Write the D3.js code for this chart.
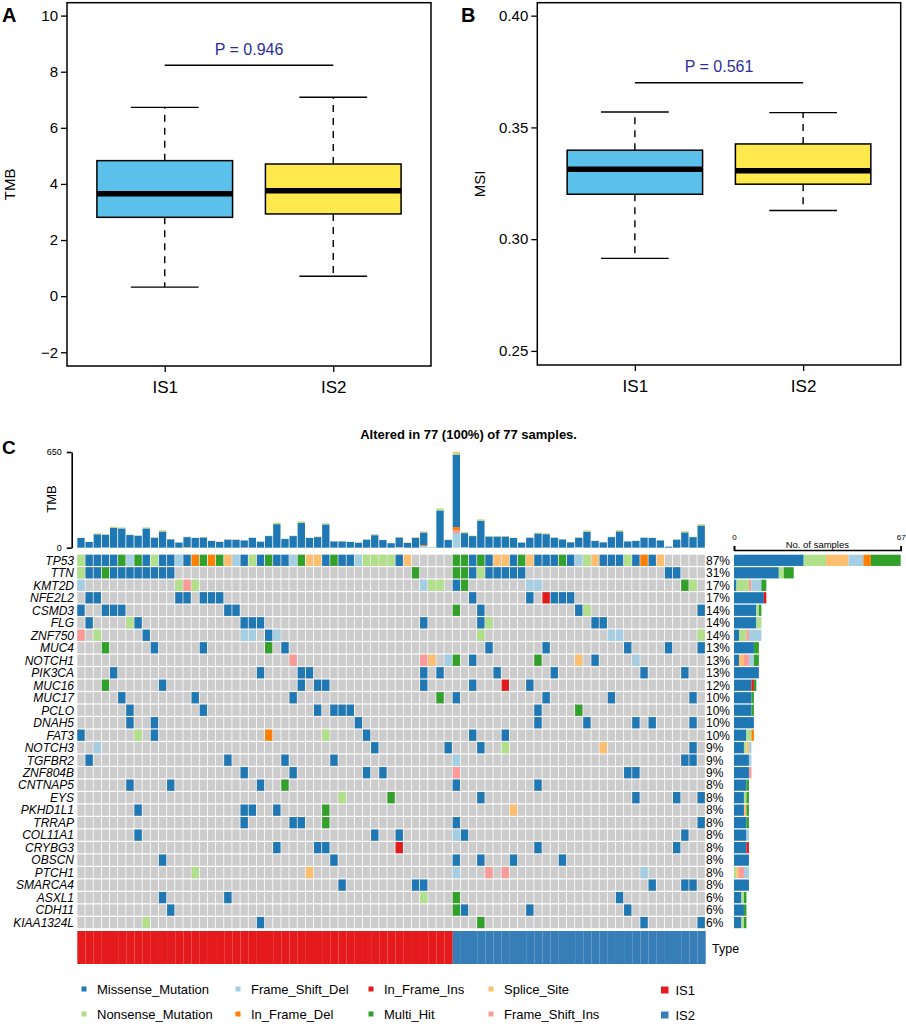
<!DOCTYPE html>
<html>
<head>
<meta charset="utf-8">
<script src="https://cdn.jsdelivr.net/npm/d3@7"></script>
<style>
  body { margin: 0; background: #fff; }
  text { font-family: "Liberation Sans", Arial, Helvetica, sans-serif; }
</style>
</head>
<body>
<svg id="fig" width="906" height="1024"></svg>
<script>
/* ---------- DATA ---------- */
const groups = ["IS1", "IS2"];

// panel A: TMB boxplot (low whisker, Q1, median, Q3, high whisker)
const tmbLow = [0.32, 0.71];
const tmbQ1 = [2.81, 2.93];
const tmbMed = [3.65, 3.76];
const tmbQ3 = [4.83, 4.71];
const tmbHigh = [6.73, 7.09];
const tmbTicks = [-2, 0, 2, 4, 6, 8, 10];
const tmbP = "P = 0.946";

// panel B: MSI boxplot
const msiLow = [0.2914, 0.3128];
const msiQ1 = [0.3201, 0.3246];
const msiMed = [0.3313, 0.3306];
const msiQ3 = [0.3398, 0.3426];
const msiHigh = [0.3569, 0.3566];
const msiTicks = [0.25, 0.30, 0.35, 0.40];
const msiP = "P = 0.561";

// panel C: oncoplot
const samples = d3.range(1, 78).map(i => "S" + i);
const nIS1 = 46;   // first 46 samples IS1, rest IS2

const genes = ["TP53", "TTN", "KMT2D", "NFE2L2", "CSMD3", "FLG", "ZNF750", "MUC4",
  "NOTCH1", "PIK3CA", "MUC16", "MUC17", "PCLO", "DNAH5", "FAT3", "NOTCH3", "TGFBR2",
  "ZNF804B", "CNTNAP5", "EYS", "PKHD1L1", "TRRAP", "COL11A1", "CRYBG3", "OBSCN",
  "PTCH1", "SMARCA4", "ASXL1", "CDH11", "KIAA1324L"];

// sample column + code : M missense, N nonsense, S splice, D fs del, I fs ins,
// d in-frame del, i in-frame ins, H multi hit
const mutations = [
  "0N 1M 2M 3M 4M 5H 6D 7H 8M 9N 10M 11M 12D 13M 14d 15H 16d 17H 18S 19D 20M 21N 22M 23H 24M 25M 26D 27H 28S 29S 30M 31H 32M 33M 34D 35N 36N 37N 38N 39M 40S 46H 47H 48M 49H 50M 51S 52S 53M 54H 55S 56M 57M 58M 59H 60M 61D 62N 63S 64M 65M 66M 67N 68M 69d 70M 71S",
  "0N 1M 2M 3H 4M 5M 6M 7M 8M 9M 10M 11M 41H 46H 47H 48M 49N 50M 51M 52M 53M 54M 72M 73M",
  "0D 12N 13I 14N 42D 43N 44N 46M 47H 55D 56D 74H 75N",
  "1M 2M 12M 13M 15M 16M 17M 48M 55M 57i 58M 59M 60M",
  "0M 3M 4M 5M 18M 19M 46H 49M 61M 62N 76M",
  "1M 6N 7M 20M 21M 22M 42M 49M 50N 63M 64M",
  "0I 2N 8M 20D 21D 23M 24D 49N 65D 66D 76N",
  "3H 9M 15M 23H 25M 50M 57M 67M 72M 76M",
  "26I 42I 43S 45D 46H 48M 56H 61S 63M 68D",
  "4M 22M 27M 28M 42M 44M 51M 58M 69M 74M",
  "3H 10M 27M 29M 30M 42M 48M 52i 55M",
  "5M 14M 26M 44H 46M 57M 65M 75M",
  "6M 15M 29M 31M 32M 33M 56M 61H",
  "6M 9M 34M 56M 62M 68M 70M 75M",
  "0M 7N 9M 23d 30N 35M 48M 52M",
  "2D 36M 45M 49M 52N 64S 75M",
  "1M 18M 25M 31M 46D 74M 75M",
  "20M 26M 35M 37M 46I 67M 68M",
  "6M 11M 22M 25H 46M 56M",
  "32N 38H 49M 68M 73M 76M",
  "7M 20M 21M 24M 30H 53S",
  "20M 26M 27M 30H 46M 76M",
  "7M 36M 39M 46D 47M 74M",
  "24M 29M 30M 39i 56M 73M",
  "10M 31M 46M 49M 53M 59M",
  "14N 28S 46D 50I 52I 69D",
  "32M 41M 42M 70M 74M 75M",
  "10M 18M 42N 46H 66M",
  "11M 46H 47M 55M 67M",
  "8N 22M 49H 69M 76M"
];

// TMB per sample (top bar)
const tmbTotal = [68, 41, 100, 91, 143, 138, 89, 84, 138, 70, 120, 59, 36, 75, 68, 73, 48, 43, 57, 59,
  52, 70, 43, 82, 170, 61, 82, 180, 68, 77, 166, 45, 45, 41, 36, 57, 91, 54, 32, 73,
  36, 73, 113, 5, 268, 55, 652, 108, 82, 195, 79, 79, 79, 68, 36, 70, 102, 98, 70, 59,
  39, 70, 118, 48, 39, 75, 120, 45, 48, 70, 68, 52, 7, 57, 113, 75, 161];
const tmbNonsense = [2, 2, 6, 3, 7, 7, 3, 3, 7, 2, 7, 2, 1, 3, 2, 3, 2, 2, 2, 2,
  2, 3, 2, 3, 8, 2, 3, 9, 2, 3, 8, 2, 2, 2, 2, 2, 6, 2, 1, 3,
  2, 3, 6, 0, 12, 3, 12, 6, 3, 8, 3, 3, 3, 2, 1, 2, 5, 4, 2, 2,
  2, 2, 6, 2, 2, 3, 6, 2, 2, 2, 2, 2, 0, 2, 6, 3, 7];
const tmbSplice = {2: 3, 4: 2, 10: 3, 17: 2, 19: 3, 24: 2, 27: 3, 29: 2, 40: 2, 41: 3, 42: 4, 44: 3,
  46: 8, 47: 3, 49: 3, 57: 2, 62: 3, 66: 3, 74: 3, 76: 3};
const tmbFsDel = {42: 12, 43: 5, 46: 100, 47: 3, 61: 3};
const tmbFsIns = {3: 2, 39: 3, 46: 20, 74: 2};
const tmbIfDel = {13: 3, 42: 6, 46: 20};
const tmbIfIns = {20: 2, 57: 2};

/* ---------- STYLES ---------- */
const FONT = '"Liberation Sans", Arial, Helvetica, sans-serif';
const codeNames = {M: "Missense_Mutation", N: "Nonsense_Mutation", S: "Splice_Site",
  D: "Frame_Shift_Del", I: "Frame_Shift_Ins", d: "In_Frame_Del", i: "In_Frame_Ins", H: "Multi_Hit"};
const vcColor = d3.scaleOrdinal()
  .domain(["Missense_Mutation", "Frame_Shift_Del", "In_Frame_Ins", "Splice_Site",
    "Nonsense_Mutation", "In_Frame_Del", "Multi_Hit", "Frame_Shift_Ins"])
  .range(["#1F78B4", "#A6CEE3", "#E31A1C", "#FDBF6F", "#B2DF8A", "#FF7F00", "#33A02C", "#FB9A99"]);
const groupColor = d3.scaleOrdinal().domain(groups).range(["#E41A1C", "#377EB8"]);
const boxFill = d3.scaleOrdinal().domain(groups).range(["#5BC0EA", "#FFE94D"]);

const svg = d3.select("#fig");

/* ---------- BOX PANELS ---------- */
function boxPanel(cfg) {
  const g = svg.append("g");
  const x = d3.scalePoint().domain(groups).range([cfg.x0, cfg.x1]).padding(0.58);
  const y = d3.scaleLinear().domain(cfg.domain).range([cfg.y1, cfg.y0]);
  const bw = x.step() * 0.805;
  const stats = groups.map((k, i) => ({k, lo: cfg.lo[i], q1: cfg.q1[i], med: cfg.med[i], q3: cfg.q3[i], hi: cfg.hi[i]}));

  g.append("g")
    .attr("transform", `translate(${cfg.x0},0)`)
    .call(d3.axisLeft(y).tickValues(cfg.ticks).tickFormat(cfg.fmt).tickSize(6).tickPadding(3))
    .attr("font-size", 15).attr("font-family", FONT)
    .call(a => a.select(".domain").remove())
    .call(a => a.selectAll("line").attr("stroke-width", 1.3));

  g.append("g")
    .attr("transform", `translate(0,${cfg.y1})`)
    .call(d3.axisBottom(x).tickSize(6).tickPadding(9))
    .attr("font-size", 17).attr("font-family", FONT)
    .call(a => a.select(".domain").remove())
    .call(a => a.selectAll("line").attr("stroke-width", 1.3));

  g.append("text")
    .attr("transform", `translate(${cfg.labelX},${(cfg.y0 + cfg.y1) / 2}) rotate(-90)`)
    .attr("text-anchor", "middle").attr("font-size", 15)
    .text(cfg.label);

  const b = g.selectAll(".bx").data(stats).join("g").attr("class", "bx");
  b.append("line")
    .attr("x1", d => x(d.k)).attr("x2", d => x(d.k))
    .attr("y1", d => y(d.q3)).attr("y2", d => y(d.hi))
    .attr("stroke", "#000").attr("stroke-width", 1.4).attr("stroke-dasharray", "7,6");
  b.append("line")
    .attr("x1", d => x(d.k)).attr("x2", d => x(d.k))
    .attr("y1", d => y(d.q1)).attr("y2", d => y(d.lo))
    .attr("stroke", "#000").attr("stroke-width", 1.4).attr("stroke-dasharray", "7,6");
  ["hi", "lo"].forEach(key => {
    b.append("line")
      .attr("x1", d => x(d.k) - bw / 4).attr("x2", d => x(d.k) + bw / 4)
      .attr("y1", d => y(d[key])).attr("y2", d => y(d[key]))
      .attr("stroke", "#000").attr("stroke-width", 1.4);
  });
  b.append("rect")
    .attr("x", d => x(d.k) - bw / 2).attr("width", bw)
    .attr("y", d => y(d.q3)).attr("height", d => y(d.q1) - y(d.q3))
    .attr("fill", d => boxFill(d.k)).attr("stroke", "#000").attr("stroke-width", 1.5);
  b.append("line")
    .attr("x1", d => x(d.k) - bw / 2).attr("x2", d => x(d.k) + bw / 2)
    .attr("y1", d => y(d.med)).attr("y2", d => y(d.med))
    .attr("stroke", "#000").attr("stroke-width", 5.5);

  g.append("line")
    .attr("x1", x(groups[0])).attr("x2", x(groups[1]))
    .attr("y1", y(cfg.sig)).attr("y2", y(cfg.sig))
    .attr("stroke", "#000").attr("stroke-width", 1.5);
  g.append("text")
    .attr("x", (x(groups[0]) + x(groups[1])) / 2).attr("y", y(cfg.sig) - 10.5)
    .attr("text-anchor", "middle").attr("font-size", 16).attr("fill", "#2B2F9B")
    .text(cfg.p);

  g.append("rect")
    .attr("x", cfg.x0).attr("y", cfg.y0)
    .attr("width", cfg.x1 - cfg.x0).attr("height", cfg.y1 - cfg.y0)
    .attr("fill", "none").attr("stroke", "#000").attr("stroke-width", 1.5);

  g.append("text").attr("x", cfg.tagX).attr("y", 21.7)
    .attr("font-size", 20).attr("font-weight", "bold").text(cfg.tag);
}

boxPanel({tag: "A", tagX: 2, x0: 67, x1: 431, y0: 2.7, y1: 366, domain: [-2.49, 10.46],
  ticks: tmbTicks, fmt: d3.format("d"), label: "TMB", labelX: 15,
  lo: tmbLow, q1: tmbQ1, med: tmbMed, q3: tmbQ3, hi: tmbHigh, sig: 8.23, p: tmbP});
boxPanel({tag: "B", tagX: 461, x0: 537.3, x1: 900.7, y0: 2.7, y1: 365, domain: [0.2437, 0.4058],
  ticks: msiTicks, fmt: d3.format(".2f"), label: "MSI", labelX: 485,
  lo: msiLow, q1: msiQ1, med: msiMed, q3: msiQ3, hi: msiHigh, sig: 0.370, p: msiP});

/* ---------- ONCOPLOT ---------- */
const cells = genes.flatMap((gene, gi) =>
  mutations[gi].split(" ").map(t => ({
    gene, sample: samples[+t.slice(0, -1)], type: codeNames[t.slice(-1)]
  })));

const x = d3.scaleBand().domain(samples).range([77.3, 704.85]).paddingInner(0.1);
const y = d3.scaleBand().domain(genes).range([554.7, 928.2]).paddingInner(0.1);
const c = svg.append("g");

c.append("text").attr("x", 2).attr("y", 454)
  .attr("font-size", 19).attr("font-weight", "bold").text("C");

const altered = new Set(cells.map(d => d.sample)).size;
c.append("text").attr("x", 468.6).attr("y", 438.5).attr("text-anchor", "middle")
  .attr("font-size", 13).attr("font-weight", "bold")
  .text(`Altered in ${altered} (${Math.round(altered / samples.length * 100)}%) of ${samples.length} samples.`);

// background grid
c.append("g").selectAll("rect")
  .data(d3.cross(genes, samples))
  .join("rect")
  .attr("x", d => x(d[1])).attr("y", d => y(d[0]))
  .attr("width", x.bandwidth()).attr("height", y.bandwidth())
  .attr("fill", "#CCCCCC");

c.append("g").selectAll("rect")
  .data(cells)
  .join("rect")
  .attr("x", d => x(d.sample)).attr("y", d => y(d.gene))
  .attr("width", x.bandwidth()).attr("height", y.bandwidth())
  .attr("fill", d => vcColor(d.type));

// gene names + percentages
const geneCount = d3.rollup(cells, v => v.length, d => d.gene);
c.append("g").selectAll("text")
  .data(genes).join("text")
  .attr("x", 74).attr("y", d => y(d) + y.bandwidth() / 2)
  .attr("dy", "0.36em").attr("text-anchor", "end")
  .attr("font-size", 12).attr("font-style", "italic")
  .text(d => d);
c.append("g").selectAll("text")
  .data(genes).join("text")
  .attr("x", 706).attr("y", d => y(d) + y.bandwidth() / 2)
  .attr("dy", "0.36em").attr("font-size", 12)
  .text(d => Math.round(geneCount.get(d) / samples.length * 100) + "%");

// TMB stacked bars on top
const tmbKeys = ["Frame_Shift_Del", "Frame_Shift_Ins", "In_Frame_Del", "In_Frame_Ins",
  "Missense_Mutation", "Nonsense_Mutation", "Splice_Site"];
const tmbRows = samples.map((s, i) => {
  const r = {
    sample: s,
    Frame_Shift_Del: tmbFsDel[i] || 0,
    Frame_Shift_Ins: tmbFsIns[i] || 0,
    In_Frame_Del: tmbIfDel[i] || 0,
    In_Frame_Ins: tmbIfIns[i] || 0,
    Nonsense_Mutation: tmbNonsense[i],
    Splice_Site: tmbSplice[i] || 0
  };
  r.Missense_Mutation = tmbTotal[i] - d3.sum(tmbKeys.filter(k => k !== "Missense_Mutation"), k => r[k]);
  return r;
});
const tmbY = d3.scaleLinear().domain([0, 650]).range([547.7, 452]);
const stacked = d3.stack().keys(tmbKeys)(tmbRows);
c.append("g").selectAll("g")
  .data(stacked).join("g")
  .attr("fill", d => vcColor(d.key))
  .selectAll("rect")
  .data(d => d).join("rect")
  .attr("x", d => x(d.data.sample)).attr("width", x.bandwidth())
  .attr("y", d => tmbY(d[1])).attr("height", d => tmbY(d[0]) - tmbY(d[1]));

c.append("g")
  .attr("transform", "translate(71.7,0)")
  .call(d3.axisLeft(tmbY).tickValues([0, 650]).tickSize(5).tickSizeOuter(0).tickPadding(5))
  .attr("font-size", 9).attr("font-family", FONT)
  .call(a => a.selectAll("line, path").attr("stroke-width", 1.6));
c.append("text")
  .attr("transform", "translate(56.3,499) rotate(-90)")
  .attr("text-anchor", "middle").attr("font-size", 13).text("TMB");

// right side: number of samples per gene by class
const sideKeys = ["Missense_Mutation", "Nonsense_Mutation", "Splice_Site", "Frame_Shift_Ins",
  "Frame_Shift_Del", "In_Frame_Del", "In_Frame_Ins", "Multi_Hit"];
const sideRows = genes.map(gene => {
  const r = {gene};
  sideKeys.forEach(k => r[k] = cells.filter(d => d.gene === gene && d.type === k).length);
  return r;
});
const maxCount = d3.max(genes, g => geneCount.get(g));
const xr = d3.scaleLinear().domain([0, maxCount]).range([734, 900.7]);
c.append("g").selectAll("g")
  .data(d3.stack().keys(sideKeys)(sideRows)).join("g")
  .attr("fill", d => vcColor(d.key))
  .selectAll("rect")
  .data(d => d).join("rect")
  .attr("x", d => xr(d[0])).attr("width", d => xr(d[1]) - xr(d[0]))
  .attr("y", d => y(d.data.gene)).attr("height", y.bandwidth());

c.append("g")
  .attr("transform", "translate(0,550)")
  .call(d3.axisTop(xr).tickValues([0, maxCount]).tickSize(4).tickPadding(6))
  .attr("font-size", 8).attr("font-family", FONT)
  .call(a => a.selectAll("line, path").attr("stroke-width", 1.6));
c.append("text").attr("x", (xr(0) + xr(maxCount)) / 2).attr("y", 548)
  .attr("text-anchor", "middle").attr("font-size", 9.5).text("No. of samples");

// sample type annotation
c.append("g").selectAll("rect")
  .data(samples).join("rect")
  .attr("x", d => x(d)).attr("width", x.step() + 0.05)
  .attr("y", 931).attr("height", 33)
  .attr("fill", (d, i) => groupColor(i < nIS1 ? "IS1" : "IS2"));
c.append("text").attr("x", 712).attr("y", 948).attr("dy", "0.36em")
  .attr("font-size", 12.5).text("Type");

// legends
const legendOrder = ["Missense_Mutation", "Nonsense_Mutation", "Frame_Shift_Del", "In_Frame_Del",
  "In_Frame_Ins", "Multi_Hit", "Splice_Site", "Frame_Shift_Ins"];
const legCol = d3.scaleOrdinal().domain([0, 1, 2, 3]).range([97, 251, 384, 504]);
const legRow = d3.scaleOrdinal().domain([0, 1]).range([989, 1014]);
const lg = c.append("g").selectAll("g")
  .data(legendOrder).join("g")
  .attr("transform", (d, i) => `translate(${legCol(Math.floor(i / 2))},${legRow(i % 2)})`);
lg.append("rect").attr("x", -15.5).attr("y", -2.5).attr("width", 5).attr("height", 5)
  .attr("fill", d => vcColor(d));
lg.append("text").attr("dy", "0.36em").attr("font-size", 13).text(d => d);

const tg = c.append("g").selectAll("g")
  .data(groups).join("g")
  .attr("transform", (d, i) => `translate(675.5,${legRow(i) + 1})`);
tg.append("rect").attr("x", -14.5).attr("y", -3.5).attr("width", 7.5).attr("height", 7)
  .attr("fill", d => groupColor(d));
tg.append("text").attr("dy", "0.36em").attr("font-size", 13).text(d => d);
</script>
</body>
</html>
